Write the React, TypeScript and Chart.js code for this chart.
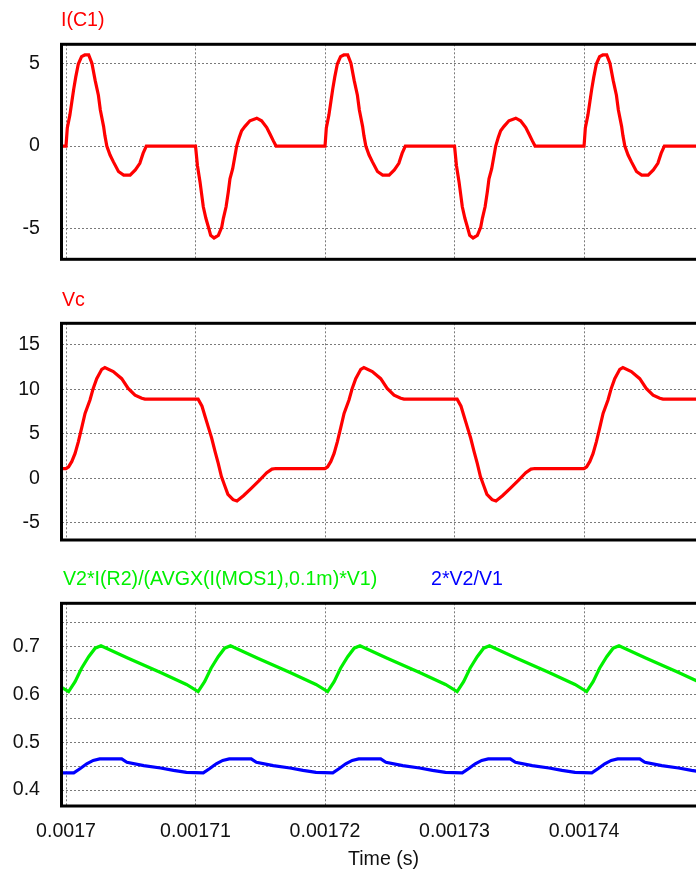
import React, { useEffect, useRef } from 'react';
import { Chart, registerables } from 'chart.js';

Chart.register(...registerables);

// Time axis: values are stored as microsecond offsets from T0 seconds.
const T0 = 0.0017;
const US = 1e-6;
const timeMinUs = -0.31;
const timeMaxUs = 51.27;
const timeTicks = [0.0017, 0.00171, 0.00172, 0.00173, 0.00174];
const timeTickLabels = ['0.0017', '0.00171', '0.00172', '0.00173', '0.00174'];

// I(C1) capacitor current (A)
const icTimeUs = [
  -0.4,
  0, 0.1, 0.3, 0.45, 0.6, 0.75, 0.95, 1.2, 1.45, 1.75, 2.0, 2.25, 2.5, 2.65, 2.9, 3.0, 3.15, 3.4, 3.65, 4.05, 4.45, 4.95, 5.35, 5.7, 5.95, 6.2,
  10, 10.15, 10.35, 10.6, 10.8, 11.0, 11.17, 11.43, 11.76, 12.02, 12.15, 12.36, 12.53, 12.66, 12.87, 13.05, 13.18, 13.38, 13.56, 13.82, 14.2, 14.73, 15.1, 15.5, 15.75, 16.0, 16.22,
  20, 20.1, 20.3, 20.45, 20.6, 20.75, 20.95, 21.2, 21.45, 21.75, 22.0, 22.25, 22.5, 22.65, 22.9, 23.0, 23.15, 23.4, 23.65, 24.05, 24.45, 24.95, 25.35, 25.7, 25.95, 26.2,
  30, 30.15, 30.35, 30.6, 30.8, 31.0, 31.17, 31.43, 31.76, 32.02, 32.15, 32.36, 32.53, 32.66, 32.87, 33.05, 33.18, 33.38, 33.56, 33.82, 34.2, 34.73, 35.1, 35.5, 35.75, 36.0, 36.22,
  40, 40.1, 40.3, 40.45, 40.6, 40.75, 40.95, 41.2, 41.45, 41.75, 42.0, 42.25, 42.5, 42.65, 42.9, 43.0, 43.15, 43.4, 43.65, 44.05, 44.45, 44.95, 45.35, 45.7, 45.95, 46.2,
  50, 50.15, 50.35, 50.6, 50.8, 51.0, 51.17, 51.43,
];
const icValues = [
  0,
  0, 1.1, 1.9, 2.7, 3.5, 4.2, 5.0, 5.45, 5.55, 5.55, 5.05, 4.0, 3.1, 2.2, 1.2, 0.65, 0, -0.55, -0.95, -1.55, -1.77, -1.77, -1.45, -1.05, -0.45, 0,
  0, -1.2, -2.2, -3.7, -4.4, -4.95, -5.44, -5.6, -5.44, -4.95, -4.4, -3.7, -2.8, -2.0, -1.38, -0.57, 0, 0.53, 0.93, 1.2, 1.54, 1.7, 1.54, 1.13, 0.73, 0.33, 0,
  0, 1.1, 1.9, 2.7, 3.5, 4.2, 5.0, 5.45, 5.55, 5.55, 5.05, 4.0, 3.1, 2.2, 1.2, 0.65, 0, -0.55, -0.95, -1.55, -1.77, -1.77, -1.45, -1.05, -0.45, 0,
  0, -1.2, -2.2, -3.7, -4.4, -4.95, -5.44, -5.6, -5.44, -4.95, -4.4, -3.7, -2.8, -2.0, -1.38, -0.57, 0, 0.53, 0.93, 1.2, 1.54, 1.7, 1.54, 1.13, 0.73, 0.33, 0,
  0, 1.1, 1.9, 2.7, 3.5, 4.2, 5.0, 5.45, 5.55, 5.55, 5.05, 4.0, 3.1, 2.2, 1.2, 0.65, 0, -0.55, -0.95, -1.55, -1.77, -1.77, -1.45, -1.05, -0.45, 0,
  0, -1.2, -2.2, -3.7, -4.4, -4.95, -5.44, -5.6,
];

// Vc capacitor voltage (V)
const vcTimeUs = [
  -0.4,
  0, 0.2, 0.45, 0.7, 0.95, 1.2, 1.47, 1.85, 2.1, 2.37, 2.76, 3.0, 3.65, 4.3, 4.8, 5.33, 5.85, 6.1,
  10.2, 10.5, 10.75, 11.0, 11.25, 11.5, 11.75, 12.0, 12.25, 12.5, 12.9, 13.2, 13.7, 14.3, 14.95, 15.5, 15.9, 16.2,
  20, 20.2, 20.45, 20.7, 20.95, 21.2, 21.47, 21.85, 22.1, 22.37, 22.76, 23.0, 23.65, 24.3, 24.8, 25.33, 25.85, 26.1,
  30.2, 30.5, 30.75, 31.0, 31.25, 31.5, 31.75, 32.0, 32.25, 32.5, 32.9, 33.2, 33.7, 34.3, 34.95, 35.5, 35.9, 36.2,
  40, 40.2, 40.45, 40.7, 40.95, 41.2, 41.47, 41.85, 42.1, 42.37, 42.76, 43.0, 43.65, 44.3, 44.8, 45.33, 45.85, 46.1,
  50.2, 50.5, 50.75, 51.0, 51.25, 51.5,
];
const vcValues = [
  1.1,
  1.1, 1.3, 1.9, 2.8, 4.1, 5.6, 7.3, 8.8, 10.1, 11.2, 12.25, 12.45, 12.0, 11.2, 10.1, 9.35, 9.0, 8.9,
  8.9, 8.1, 6.9, 5.7, 4.5, 3.05, 1.7, 0.2, -0.8, -1.8, -2.4, -2.55, -1.95, -1.12, -0.19, 0.63, 1.04, 1.1,
  1.1, 1.3, 1.9, 2.8, 4.1, 5.6, 7.3, 8.8, 10.1, 11.2, 12.25, 12.45, 12.0, 11.2, 10.1, 9.35, 9.0, 8.9,
  8.9, 8.1, 6.9, 5.7, 4.5, 3.05, 1.7, 0.2, -0.8, -1.8, -2.4, -2.55, -1.95, -1.12, -0.19, 0.63, 1.04, 1.1,
  1.1, 1.3, 1.9, 2.8, 4.1, 5.6, 7.3, 8.8, 10.1, 11.2, 12.25, 12.45, 12.0, 11.2, 10.1, 9.35, 9.0, 8.9,
  8.9, 8.1, 6.9, 5.7, 4.5, 3.05,
];

// V2*I(R2)/(AVGX(I(MOS1),0.1m)*V1)
const effTimeUs = [
  -0.4,
  0.2, 0.7, 1.2, 1.75, 2.25, 2.7, 4.8, 7.3, 9.3,
  10.2, 10.7, 11.2, 11.75, 12.25, 12.7, 14.8, 17.3, 19.3,
  20.2, 20.7, 21.2, 21.75, 22.25, 22.7, 24.8, 27.3, 29.3,
  30.2, 30.7, 31.2, 31.75, 32.25, 32.7, 34.8, 37.3, 39.3,
  40.2, 40.7, 41.2, 41.75, 42.25, 42.7, 44.8, 47.3, 49.3,
  50.2, 50.7, 51.2, 51.5,
];
const effValues = [
  0.616,
  0.606, 0.627, 0.655, 0.679, 0.697, 0.702, 0.676, 0.646, 0.621,
  0.606, 0.627, 0.655, 0.679, 0.697, 0.702, 0.676, 0.646, 0.621,
  0.606, 0.627, 0.655, 0.679, 0.697, 0.702, 0.676, 0.646, 0.621,
  0.606, 0.627, 0.655, 0.679, 0.697, 0.702, 0.676, 0.646, 0.621,
  0.606, 0.627, 0.655, 0.679, 0.697, 0.702, 0.676, 0.646, 0.621,
  0.606, 0.627, 0.655, 0.668,
];

// 2*V2/V1
const gainTimeUs = [
  -0.4,
  0.6, 1.1, 1.6, 2.1, 2.6, 4.3, 4.7, 6.0, 7.3, 8.3, 9.3,
  10.6, 11.1, 11.6, 12.1, 12.6, 14.3, 14.7, 16.0, 17.3, 18.3, 19.3,
  20.6, 21.1, 21.6, 22.1, 22.6, 24.3, 24.7, 26.0, 27.3, 28.3, 29.3,
  30.6, 31.1, 31.6, 32.1, 32.6, 34.3, 34.7, 36.0, 37.3, 38.3, 39.3,
  40.6, 41.1, 41.6, 42.1, 42.6, 44.3, 44.7, 46.0, 47.3, 48.3, 49.3,
  50.6, 51.1, 51.6,
];
const gainValues = [
  0.436,
  0.436, 0.445, 0.455, 0.462, 0.465, 0.465, 0.458, 0.451, 0.446, 0.441, 0.437,
  0.436, 0.445, 0.455, 0.462, 0.465, 0.465, 0.458, 0.451, 0.446, 0.441, 0.437,
  0.436, 0.445, 0.455, 0.462, 0.465, 0.465, 0.458, 0.451, 0.446, 0.441, 0.437,
  0.436, 0.445, 0.455, 0.462, 0.465, 0.465, 0.458, 0.451, 0.446, 0.441, 0.437,
  0.436, 0.445, 0.455, 0.462, 0.465, 0.465, 0.458, 0.451, 0.446, 0.441, 0.437,
  0.436, 0.445, 0.455,
];

// Y-axis grid values and labels for each panel
const icTicks = [-5, 0, 5];
const icTickLabels = ['-5', '0', '5'];
const vcTicks = [-5, 0, 5, 10, 15];
const vcTickLabels = ['-5', '0', '5', '10', '15'];
const ratioTicks = [0.4, 0.45, 0.5, 0.55, 0.6, 0.65, 0.7, 0.75];
const ratioTickLabels = ['0.4', '', '0.5', '', '0.6', '', '0.7', ''];

const FONT = "'Liberation Sans', Arial, sans-serif";
const FONT_SIZE = 19.6;
const RED = '#ff0000';
const GREEN = '#00f000';
const BLUE = '#0000ff';
const GRID = '#7a7a7a';

type Series = { color: string; t: number[]; v: number[] };

type PanelProps = {
  top: number;
  height: number;
  padTop: number;
  padBottom: number;
  xHeight: number;
  showTime: boolean;
  yMin: number;
  yMax: number;
  yTicks: number[];
  yTickLabels: string[];
  series: Series[];
};

const CANVAS_W = 740;

const framePlugin = {
  id: 'plotFrame',
  afterDatasetsDraw(chart: any) {
    const { ctx, chartArea: a } = chart;
    ctx.save();
    ctx.strokeStyle = '#000';
    ctx.lineWidth = 3;
    ctx.strokeRect(a.left - 0.5, a.top, a.right - a.left, a.bottom - a.top);
    ctx.restore();
  },
};

function Panel(p: PanelProps) {
  const ref = useRef<HTMLCanvasElement>(null);

  useEffect(() => {
    if (!ref.current) return;
    const chart = new Chart(ref.current, {
      type: 'line',
      data: {
        datasets: p.series.map((s) => ({
          data: s.t.map((u, i) => ({ x: T0 + u * US, y: s.v[i] })),
          borderColor: s.color,
          borderWidth: 3.2,
          pointRadius: 0,
          fill: false,
          tension: 0,
        })),
      },
      options: {
        animation: false,
        responsive: false,
        events: [],
        layout: {
          padding: { left: 0, right: 10, top: p.padTop, bottom: p.padBottom },
        },
        plugins: {
          legend: { display: false },
          tooltip: { enabled: false },
        },
        scales: {
          x: {
            type: 'linear',
            min: T0 + timeMinUs * US,
            max: T0 + timeMaxUs * US,
            afterBuildTicks: (s: any) => {
              s.ticks = timeTicks.map((value) => ({ value }));
            },
            afterFit: (s: any) => {
              s.height = p.xHeight;
            },
            grid: { color: GRID, lineWidth: 1, drawTicks: false },
            border: { display: false, dash: [2, 2] },
            ticks: {
              display: p.showTime,
              autoSkip: false,
              maxRotation: 0,
              padding: 14,
              color: '#111',
              font: { family: FONT, size: FONT_SIZE },
              callback: (_v: any, i: number) => timeTickLabels[i],
            },
          },
          y: {
            type: 'linear',
            min: p.yMin,
            max: p.yMax,
            afterBuildTicks: (s: any) => {
              s.ticks = p.yTicks.map((value) => ({ value }));
            },
            afterFit: (s: any) => {
              s.width = 62;
            },
            grid: { color: GRID, lineWidth: 1, drawTicks: false },
            border: { display: false, dash: [2, 2] },
            ticks: {
              padding: 22,
              color: '#111',
              font: { family: FONT, size: FONT_SIZE },
              callback: (_v: any, i: number) => p.yTickLabels[i],
            },
          },
        },
      } as any,
      plugins: [framePlugin],
    });
    return () => chart.destroy();
  }, []);

  return (
    <canvas
      ref={ref}
      width={CANVAS_W}
      height={p.height}
      style={{ position: 'absolute', left: 0, top: p.top, width: CANVAS_W, height: p.height }}
    />
  );
}

const textStyle = (left: number, top: number, color: string): React.CSSProperties => ({
  position: 'absolute',
  left,
  top,
  color,
  fontFamily: FONT,
  fontSize: FONT_SIZE,
  lineHeight: `${FONT_SIZE}px`,
  whiteSpace: 'nowrap',
});

export default function App() {
  return (
    <div
      style={{
        position: 'absolute',
        left: 0,
        top: 0,
        width: 696,
        height: 872,
        overflow: 'hidden',
        background: '#fff',
      }}
    >
      <Panel
        top={0}
        height={300}
        padTop={44.3}
        padBottom={40.7}
        xHeight={0}
        showTime={false}
        yMin={-6.9}
        yMax={6.2}
        yTicks={icTicks}
        yTickLabels={icTickLabels}
        series={[{ color: RED, t: icTimeUs, v: icValues }]}
      />
      <Panel
        top={280}
        height={300}
        padTop={43.3}
        padBottom={40}
        xHeight={0}
        showTime={false}
        yMin={-6.93}
        yMax={17.42}
        yTicks={vcTicks}
        yTickLabels={vcTickLabels}
        series={[{ color: RED, t: vcTimeUs, v: vcValues }]}
      />
      <Panel
        top={560}
        height={312}
        padTop={43.3}
        padBottom={0}
        xHeight={66}
        showTime={true}
        yMin={0.3665}
        yMax={0.791}
        yTicks={ratioTicks}
        yTickLabels={ratioTickLabels}
        series={[
          { color: GREEN, t: effTimeUs, v: effValues },
          { color: BLUE, t: gainTimeUs, v: gainValues },
        ]}
      />
      <div style={textStyle(61, 10, RED)}>I(C1)</div>
      <div style={textStyle(62, 290, RED)}>Vc</div>
      <div style={textStyle(63, 569, GREEN)}>V2*I(R2)/(AVGX(I(MOS1),0.1m)*V1)</div>
      <div style={textStyle(431, 569, BLUE)}>2*V2/V1</div>
      <div style={textStyle(348, 849, '#111')}>Time (s)</div>
    </div>
  );
}
